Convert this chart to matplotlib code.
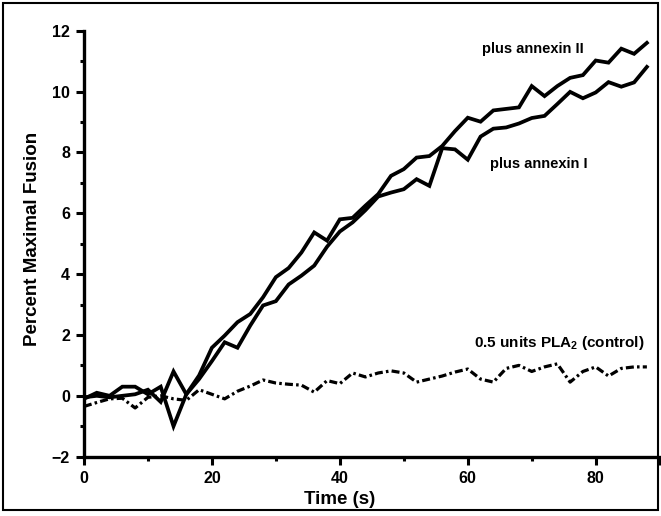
import matplotlib.pyplot as plt
from matplotlib.patches import Rectangle

plt.rcParams['font.family'] = ['Liberation Sans', 'DejaVu Sans']
plt.rcParams['font.weight'] = 'bold'
plt.rcParams['mathtext.fontset'] = 'custom'
plt.rcParams['mathtext.rm'] = 'Liberation Sans:bold'

time = list(range(0, 90, 2))

annexin_2 = [-0.1, 0.1, 0.0, 0.3, 0.3, 0.05, 0.3, -1.0, 0.05, 0.67,
             1.58, 1.98, 2.42, 2.69, 3.24, 3.90, 4.20, 4.71, 5.37, 5.1,
             5.8, 5.85, 6.25, 6.63, 7.23, 7.45, 7.83, 7.88, 8.21, 8.70,
             9.14, 9.01, 9.38, 9.43, 9.48, 10.18, 9.85, 10.18, 10.45, 10.54,
             11.02, 10.95, 11.41, 11.24, 11.60]

annexin_1 = [-0.05, 0.0, -0.05, 0.0, 0.05, 0.2, -0.2, 0.8, 0.05, 0.55,
             1.14, 1.76, 1.58, 2.31, 2.97, 3.11, 3.66, 3.95, 4.28, 4.9,
             5.4, 5.7, 6.1, 6.55, 6.68, 6.79, 7.12, 6.90, 8.14, 8.10,
             7.76, 8.52, 8.78, 8.82, 8.95, 9.13, 9.20, 9.59, 9.99, 9.78,
             9.97, 10.31, 10.16, 10.30, 10.81]

control = [-0.35, -0.22, -0.1, -0.08, -0.4, -0.05, 0.0, -0.1, -0.15, 0.2,
           0.05, -0.1, 0.15, 0.32, 0.52, 0.42, 0.38, 0.35, 0.12, 0.5,
           0.4, 0.75, 0.62, 0.75, 0.82, 0.75, 0.45, 0.55, 0.65, 0.78,
           0.88, 0.55, 0.45, 0.9, 1.0, 0.8, 0.95, 1.05, 0.45, 0.8,
           0.95, 0.65, 0.9, 0.95, 0.95]

fig = plt.figure(figsize=(6.61, 5.16), dpi=100)
ax = fig.add_axes([0.127, 0.115, 0.871, 0.8255])

ax.plot(time, annexin_2, color='black', lw=2.7, solid_joinstyle='miter')
ax.plot(time, annexin_1, color='black', lw=2.7, solid_joinstyle='miter')
ax.plot(time, control, color='black', lw=2.3, linestyle=(0, (2.5, 1.0, 0.8, 1.0)))

ax.text(62.2, 11.4, 'plus annexin II', fontsize=10.5, fontweight='bold', va='center')
ax.text(63.5, 7.62, 'plus annexin I', fontsize=10.5, fontweight='bold', va='center')
ax.text(61.0, 1.72, '0.5 units PLA$_{2}$ (control)', fontsize=11, fontweight='bold', va='center')

ax.set_xlim(0, 90)
ax.set_ylim(-2, 12)
ax.set_xticks([0, 20, 40, 60, 80, 90])
ax.set_xticklabels(['0', '20', '40', '60', '80', ''])
ax.set_xticks([10, 30, 50, 70], minor=True)
ax.set_yticks(range(-2, 13, 2))
ax.set_yticks(range(-1, 12, 2), minor=True)

for s in ['top', 'right']:
    ax.spines[s].set_visible(False)
for s in ['left', 'bottom']:
    ax.spines[s].set_linewidth(2.4)

ax.tick_params(which='major', direction='out', length=6, width=2.2, labelsize=11.5, pad=4)
ax.tick_params(which='minor', direction='out', length=3, width=2.2)
for lab in ax.get_xticklabels() + ax.get_yticklabels():
    lab.set_fontweight('bold')

ax.set_xlabel('Time (s)', fontsize=13.5, fontweight='bold')
ax.xaxis.set_label_coords(0.444, -0.08)
ax.set_ylabel('Percent Maximal Fusion', fontsize=13.5, fontweight='bold')
ax.yaxis.set_label_coords(-0.075, 0.51)

fig.patches.append(Rectangle((0.005, 0.012), 0.99, 0.983, transform=fig.transFigure,
                             fill=False, edgecolor='black', lw=1.5))

fig.savefig('out.png', dpi=100)
